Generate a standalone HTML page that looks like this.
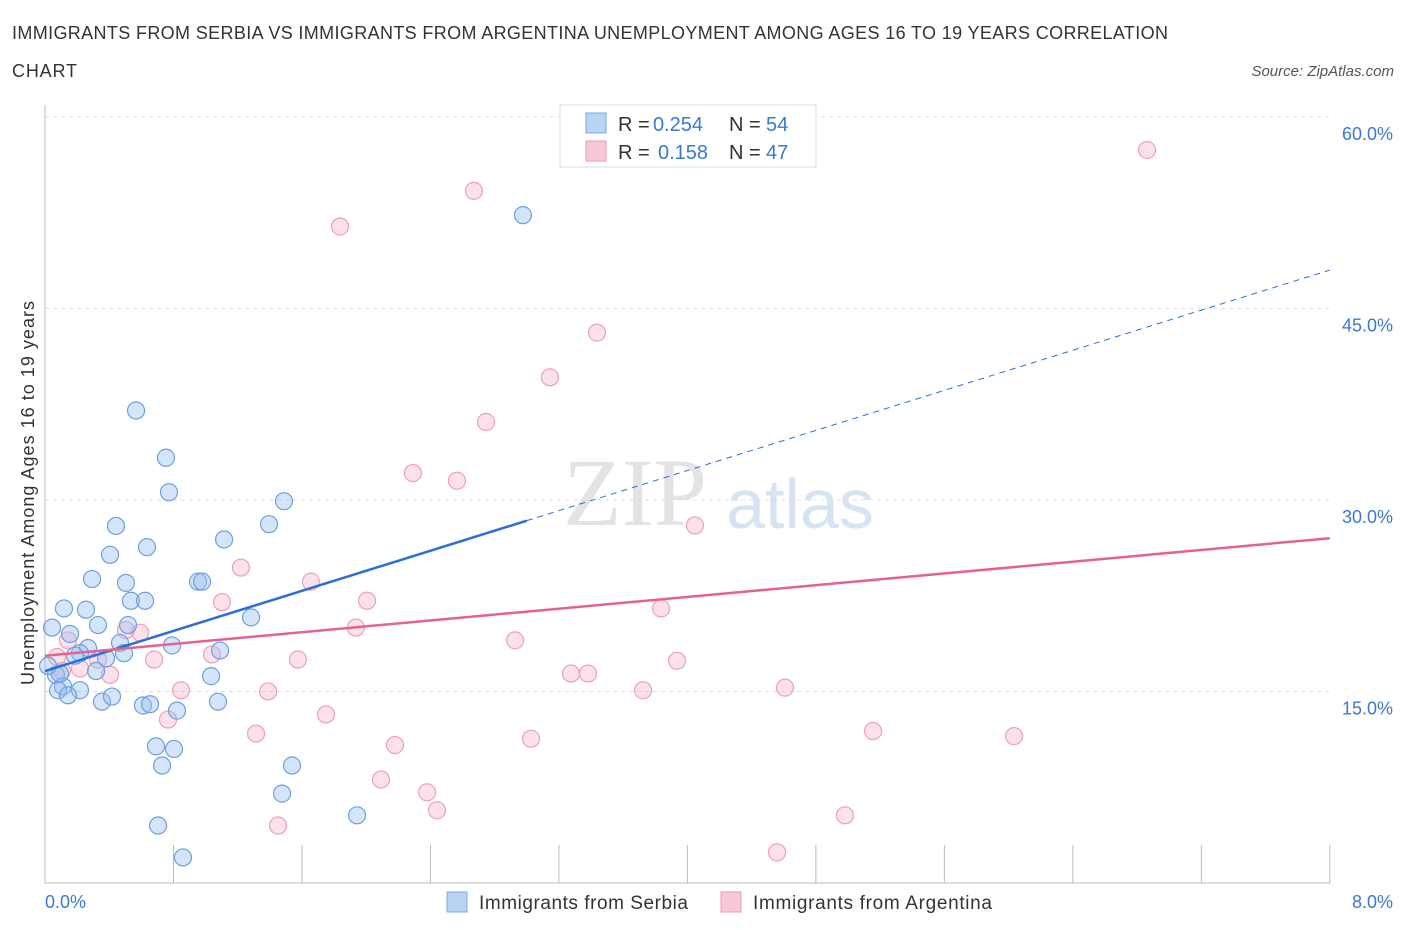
<!DOCTYPE html>
<html><head><meta charset="utf-8"><style>
body{margin:0;background:#fff;font-family:"Liberation Sans",sans-serif;}
svg{display:block}
</style></head><body>
<svg width="1406" height="930">
<text x="12" y="39" font-size="18" fill="#333" textLength="1156">IMMIGRANTS FROM SERBIA VS IMMIGRANTS FROM ARGENTINA UNEMPLOYMENT AMONG AGES 16 TO 19 YEARS CORRELATION</text>
<text x="12" y="77" font-size="18" fill="#333" textLength="65">CHART</text>
<text x="1394" y="76" font-size="15" fill="#555" font-style="italic" text-anchor="end">Source: ZipAtlas.com</text>
<text x="635" y="525" font-size="96" fill="#e3e3e3" font-family="Liberation Serif,serif" text-anchor="middle">ZIP</text>
<text x="800" y="528" font-size="70" fill="#d6e3f3" text-anchor="middle">atlas</text>
<g id="grid"></g>
<g id="axes"></g>
<g id="marks"></g>
<g id="lines"></g>
<text x="34" y="493" font-size="18" fill="#333" text-anchor="middle" textLength="384" transform="rotate(-90 34 493)">Unemployment Among Ages 16 to 19 years</text>
<rect x="560" y="105" width="256" height="62" fill="#fff" stroke="#ddd"/>
<rect x="586" y="113" width="20" height="20" fill="#b8d3f4" stroke="#7fa9e0"/>
<rect x="586" y="141" width="20" height="20" fill="#f9c8d7" stroke="#eb9ab3"/>
<g font-size="20">
<text x="618" y="131" fill="#333">R =</text><text x="653" y="131" fill="#3a78d4">0.254</text>
<text x="729" y="131" fill="#333">N =</text><text x="766" y="131" fill="#3a78d4">54</text></g>
<g font-size="20">
<text x="618" y="159" fill="#333">R =</text><text x="658" y="159" fill="#3a78d4">0.158</text>
<text x="729" y="159" fill="#333">N =</text><text x="766" y="159" fill="#3a78d4">47</text></g>
<rect x="447" y="892" width="20" height="20" fill="#b8d3f4" stroke="#7fa9e0"/>
<text x="479" y="909" font-size="19" fill="#333" textLength="209">Immigrants from Serbia</text>
<rect x="721" y="892" width="20" height="20" fill="#f9c8d7" stroke="#eb9ab3"/>
<text x="753" y="909" font-size="19" fill="#333" textLength="239">Immigrants from Argentina</text>
</svg>
<script>
const serbiaX=[2.976,0.567,0.753,0.772,1.488,0.442,1.395,0.635,1.115,0.405,0.293,0.504,0.953,0.978,0.535,0.623,0.118,0.255,1.283,0.517,0.330,0.044,0.156,0.791,0.467,0.268,0.218,0.380,1.090,0.492,0.187,0.068,0.318,1.034,0.112,0.081,0.218,0.143,0.355,0.417,0.610,0.654,1.077,0.822,0.691,0.803,0.729,1.538,1.476,0.704,1.943,0.859,0.019,0.093];
const serbiaY=[52.3,37.0,33.3,30.6,29.9,27.96,28.1,26.3,26.9,25.7,23.8,23.5,23.6,23.6,22.1,22.1,21.5,21.4,20.8,20.2,20.2,20.0,19.5,18.6,18.8,18.4,18.0,17.6,18.2,18.0,17.8,16.3,16.6,16.2,15.4,15.1,15.1,14.7,14.2,14.6,13.9,14.0,14.2,13.5,10.7,10.5,9.2,9.2,7.0,4.5,5.3,2.0,17.0,16.4];
const argX=[6.862,2.671,1.837,3.437,3.144,2.746,2.291,2.565,4.047,1.220,1.656,1.102,2.005,3.836,1.936,0.504,0.592,0.143,2.927,0.075,0.330,0.679,1.040,1.575,3.935,0.218,0.405,3.275,3.381,0.106,0.847,1.389,3.724,4.608,1.750,0.766,1.314,5.156,6.034,2.179,3.026,2.092,2.379,2.441,1.451,4.981,4.558];
const argY=[57.4,54.2,51.4,43.1,39.6,36.1,32.1,31.5,28.0,24.7,23.6,22.0,22.1,21.5,20.0,19.8,19.6,19.0,19.0,17.7,17.5,17.5,17.9,17.5,17.4,16.8,16.3,16.4,16.4,16.6,15.1,15.0,15.1,15.3,13.2,12.8,11.7,11.9,11.5,10.8,11.3,8.1,7.1,5.7,4.5,5.3,2.4];
const yTicks=[15,30,45,60];
const yTickLabels=["15.0%","30.0%","45.0%","60.0%"];
const xTicks=[0,0.8,1.6,2.4,3.2,4.0,4.8,5.6,6.4,7.2,8.0];
const serbiaTrend=[16.6,48.0];
const argTrend=[17.8,27.0];
const NS="http://www.w3.org/2000/svg";
const sx=v=>45+v*160.6, sy=v=>883-v*12.77;
function mk(p,t,a){const e=document.createElementNS(NS,t);for(const k in a)e.setAttribute(k,a[k]);p.appendChild(e);return e;}
const grid=document.getElementById('grid'),axes=document.getElementById('axes'),marks=document.getElementById('marks'),lines=document.getElementById('lines');
yTicks.forEach((t,i)=>{
 const l=mk(grid,'line',{x1:45,x2:1330,y1:sy(t),y2:sy(t),stroke:'#ddd','stroke-dasharray':'4,4'});
 
 
 const tx=mk(axes,'text',{x:1393,y:sy(t)+23,'font-size':18,fill:'#3a78d4','text-anchor':'end'});
 tx.textContent=yTickLabels[i];
 
 
});
const ax=mk(axes,'line',{x1:45,x2:1330,y1:883,y2:883,stroke:'#bbb'});


const ay=mk(axes,'line',{x1:45,x2:45,y1:105,y2:883,stroke:'#bbb'});


xTicks.forEach(t=>{
 const l=mk(axes,'line',{x1:sx(t),x2:sx(t),y1:845,y2:883,stroke:'#bbb'});
 
 
});
const xl0=mk(axes,'text',{x:45,y:908,'font-size':18,fill:'#3a78d4'});xl0.textContent='0.0%';


const xl1=mk(axes,'text',{x:1393,y:908,'font-size':18,fill:'#3a78d4','text-anchor':'end'});xl1.textContent='8.0%';


argX.forEach((x,i)=>{
 const c=mk(marks,'circle',{cx:sx(x),cy:sy(argY[i]),r:8.5,fill:'rgba(246,170,195,0.35)',stroke:'#eda0b9','stroke-width':1.2});
 
 
});
serbiaX.forEach((x,i)=>{
 const c=mk(marks,'circle',{cx:sx(x),cy:sy(serbiaY[i]),r:8.5,fill:'rgba(150,190,240,0.4)',stroke:'#6f9fdf','stroke-width':1.2});
 
 
});
const bs=(serbiaTrend[1]-serbiaTrend[0])/8, bx=3.0;
const t1=mk(lines,'line',{x1:sx(0),y1:sy(serbiaTrend[0]),x2:sx(bx),y2:sy(serbiaTrend[0]+bs*bx),stroke:'#2a6fd6','stroke-width':2.5});


const t2=mk(lines,'line',{x1:sx(bx),y1:sy(serbiaTrend[0]+bs*bx),x2:sx(8),y2:sy(serbiaTrend[1]),stroke:'#2a6fd6','stroke-width':1,'stroke-dasharray':'6,5'});


const t3=mk(lines,'line',{x1:sx(0),y1:sy(argTrend[0]),x2:sx(8),y2:sy(argTrend[1]),stroke:'#e5628e','stroke-width':2.5});


</script>
</body></html>
